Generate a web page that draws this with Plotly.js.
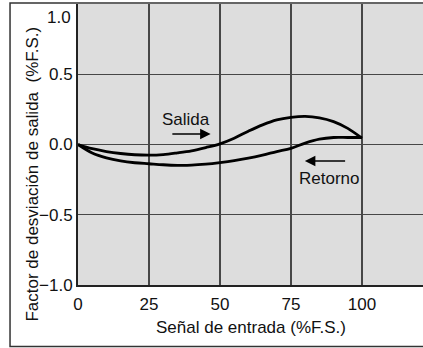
<!DOCTYPE html>
<html>
<head>
<meta charset="utf-8">
<script src="https://cdn.plot.ly/plotly-3.0.1.min.js"></script>
<style>html,body{margin:0;padding:0;background:#fff;}#chart{width:423px;height:348px;}</style>
</head>
<body>
<div id="chart"></div>
<script>
// Data
const inputSignal = [0, 5, 10, 15, 20, 25, 30, 35, 40, 45, 50, 55, 60, 65, 70, 75, 80, 85, 90, 95, 100];
const salida = [0, -0.030, -0.050, -0.064, -0.073, -0.076, -0.072, -0.060, -0.045, -0.022, 0.005, 0.045, 0.095, 0.140, 0.175, 0.193, 0.200, 0.190, 0.163, 0.115, 0.045];
const retorno = [0, -0.060, -0.095, -0.117, -0.130, -0.137, -0.144, -0.148, -0.147, -0.140, -0.129, -0.115, -0.097, -0.075, -0.050, -0.027, 0.010, 0.038, 0.050, 0.050, 0.050];
const xTicks = [0, 25, 50, 75, 100];
const yTicks = [-1, -0.5, 0, 0.5, 1];
const yTickText = ['\u22121.0', '\u22120.5', '0.0', '0.5', '1.0'];
const seriesNames = ['Salida', 'Retorno'];
const xTitle = 'Señal de entrada (%F.S.)';
const yTitle = 'Factor de desviación de salida  (%F.S.)';

const FONT = 'Liberation Sans, Arial, Helvetica, sans-serif';
const lineStyle = {color: '#000', width: 2.8, shape: 'spline', smoothing: 1};

const traces = [
  {x: inputSignal, y: salida, name: seriesNames[0], mode: 'lines', line: lineStyle, hoverinfo: 'skip'},
  {x: inputSignal, y: retorno, name: seriesNames[1], mode: 'lines', line: lineStyle, hoverinfo: 'skip'}
];

// top tick label sits below its gridline in the reference, so it is drawn as an annotation
const shownTickText = yTickText.map((t, i) => (yTicks[i] === 1 ? '' : t));

const layout = {
  width: 423, height: 348,
  margin: {l: 78, r: 0, t: 4, b: 63},
  paper_bgcolor: '#fff',
  plot_bgcolor: '#dddddd',
  showlegend: false,
  font: {family: FONT, size: 17, color: '#111'},
  xaxis: {
    range: [0, 121.5], tickvals: xTicks, ticks: '', showgrid: true, gridcolor: '#474747', gridwidth: 1.3,
    zeroline: false, showline: true, linecolor: '#222', linewidth: 2, fixedrange: true,
    ticklabelstandoff: 3,
    tickfont: {family: FONT, size: 17, color: '#111'}
  },
  yaxis: {
    range: [-1, 1], tickvals: yTicks, ticktext: shownTickText, ticks: '', showgrid: true, gridcolor: '#474747', gridwidth: 1.3,
    zeroline: false, showline: true, linecolor: '#222', linewidth: 2, fixedrange: true,
    tickfont: {family: FONT, size: 17, color: '#111'}
  },
  shapes: [
    {type: 'rect', xref: 'paper', yref: 'paper', x0: -0.197, x1: 1.05, y0: -0.219, y1: 1.0036,
     line: {color: '#333', width: 1.5}, fillcolor: 'rgba(0,0,0,0)', layer: 'above'}
  ],
  annotations: [
    {xref: 'paper', yref: 'y', x: 0, y: yTicks[4], text: yTickText[4], showarrow: false,
     xanchor: 'right', yanchor: 'middle', xshift: -5, yshift: -13, font: {family: FONT, size: 17, color: '#111'}},
    {xref: 'paper', yref: 'paper', x: 0.5, y: -0.153, text: xTitle, showarrow: false,
     xanchor: 'center', yanchor: 'middle', font: {family: FONT, size: 17, color: '#111'}},
    {xref: 'paper', yref: 'paper', x: -0.1304, y: 0.393, text: yTitle, showarrow: false, textangle: -90,
     xanchor: 'center', yanchor: 'middle', font: {family: FONT, size: 17, color: '#111'}},
    {xref: 'x', yref: 'y', x: 38, y: 0.18, text: seriesNames[0], showarrow: false,
     font: {family: FONT, size: 17, color: '#111'}},
    {xref: 'x', yref: 'y', x: 88.4, y: -0.24, text: seriesNames[1], showarrow: false,
     font: {family: FONT, size: 17, color: '#111'}},
    {xref: 'x', yref: 'y', axref: 'x', ayref: 'y', x: 46.7, y: 0.074, ax: 32.7, ay: 0.074, text: '',
     showarrow: true, arrowhead: 2, arrowsize: 1.4, arrowwidth: 1.5, arrowcolor: '#000', standoff: 0, startstandoff: 0},
    {xref: 'x', yref: 'y', axref: 'x', ayref: 'y', x: 79.9, y: -0.117, ax: 94.6, ay: -0.117, text: '',
     showarrow: true, arrowhead: 2, arrowsize: 1.4, arrowwidth: 1.5, arrowcolor: '#000', standoff: 0, startstandoff: 0}
  ]
};

Plotly.newPlot('chart', traces, layout, {displayModeBar: false, staticPlot: true});
</script>
</body>
</html>
